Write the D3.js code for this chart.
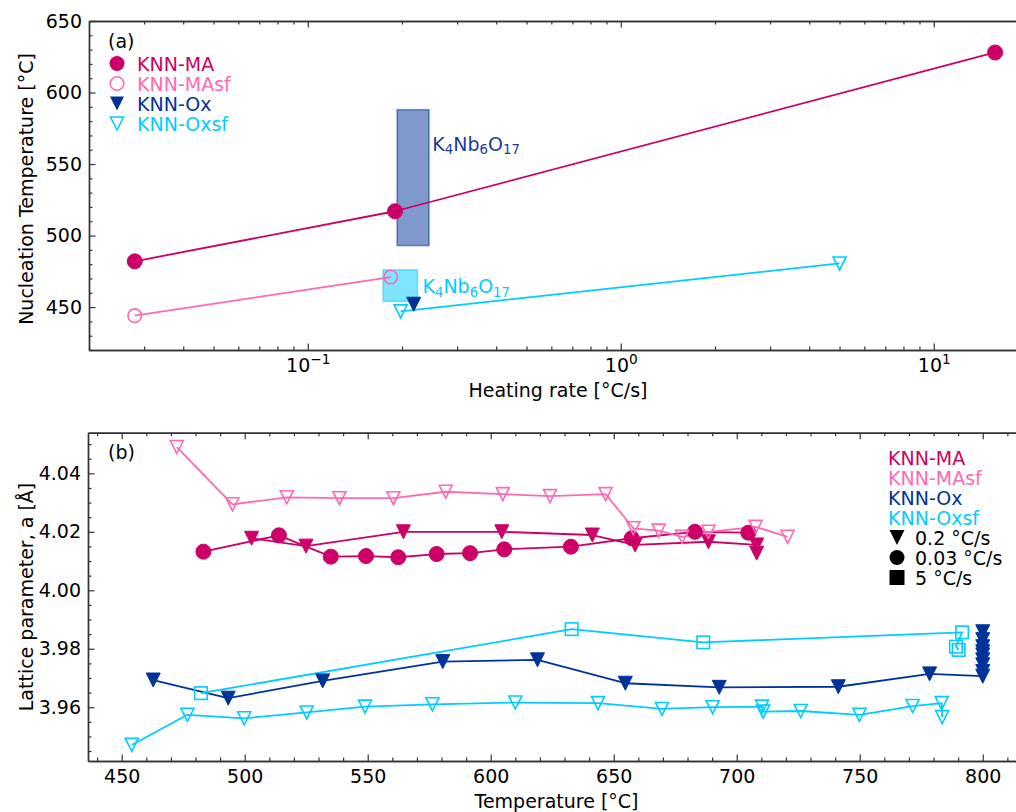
<!DOCTYPE html>
<html><head><meta charset="utf-8">
<script src="https://cdn.jsdelivr.net/npm/d3@7"></script>
<style>
body{margin:0;background:#fff}
text{font-family:"DejaVu Sans",sans-serif}
</style>
</head><body>
<svg id="c" width="1016" height="812"></svg>
<script>
// ---------------- DATA ----------------
const seriesNames = ["KNN-MA", "KNN-MAsf", "KNN-Ox", "KNN-Oxsf"];
const seriesColors = ["#cc0066", "#ff69b4", "#003399", "#00ccff"];
const rateLegend = ["0.2 °C/s", "0.03 °C/s", "5 °C/s"];

// Panel (a): nucleation temperature vs heating rate
const rateMA = [0.028, 0.19, 15.7];
const nucMA = [482, 517, 628];
const rateMAsf = [0.028, 0.184];
const nucMAsf = [444, 471];
const rateOx = [0.218];
const nucOx = [452];
const rateOxsf = [0.198, 5.0];
const nucOxsf = [447, 480.5];
// K4Nb6O17 ranges: [rateMin, rateMax, tMin, tMax]
const phaseOx = [0.193, 0.244, 493, 588];
const phaseOxsf = [0.174, 0.224, 454, 476];

const aYTicks = [450, 500, 550, 600, 650];
const aXTicks = [0.1, 1, 10];
const aXTickExp = ["−1", "0", "1"];

// Panel (b): lattice parameter vs temperature
const tMA02 = [502.8, 524.9, 564.5, 604.5, 641.3, 658.7, 688.5, 708.1, 708.1];
const aMA02 = [4.0178, 4.0151, 4.0200, 4.0200, 4.0189, 4.0155, 4.0166, 4.0155, 4.0127];
const tMA003 = [483.2, 513.9, 535.0, 549.3, 562.4, 578.0, 591.6, 605.5, 632.6, 657.3, 683.0, 704.7];
const aMA003 = [4.0132, 4.0188, 4.0115, 4.0117, 4.0113, 4.0124, 4.0127, 4.0140, 4.0149, 4.0178, 4.0200, 4.0197];
const tMAsf02 = [472.4, 495.0, 517.1, 538.5, 560.4, 581.7, 604.9, 624.1, 646.7, 658.0, 668.3, 677.8, 688.5, 707.7, 720.7];
const aMAsf02 = [4.0490, 4.0294, 4.0318, 4.0315, 4.0315, 4.0337, 4.0329, 4.0322, 4.0329, 4.0212, 4.0204, 4.0183, 4.0200, 4.0217, 4.0183];
const tOx02 = [462.8, 493.3, 531.7, 580.5, 619.0, 654.7, 692.9, 741.3, 778.4, 800, 800, 800, 800, 800, 800, 800, 800, 800];
const aOx02 = [3.9693, 3.9631, 3.9690, 3.9756, 3.9762, 3.9682, 3.9668, 3.9670, 3.9714, 3.9706, 3.9722, 3.9745, 3.9762, 3.9779, 3.9790, 3.9807, 3.9831, 3.9858];
const tOxsf02 = [454.1, 476.7, 499.8, 525.2, 548.9, 576.3, 610.0, 643.6, 669.6, 690.2, 710.3, 710.7, 726.0, 749.9, 771.5, 783.3, 783.5];
const aOxsf02 = [3.9471, 3.9574, 3.9562, 3.9582, 3.9602, 3.9610, 3.9616, 3.9614, 3.9594, 3.9600, 3.9602, 3.9585, 3.9587, 3.9574, 3.9604, 3.9614, 3.9566];
const tOxsf5 = [482.2, 632.9, 686.4, 791.6, 789.1, 790.2];
const aOxsf5 = [3.9648, 3.9867, 3.9822, 3.9856, 3.9807, 3.9796];

const bXTicks = [450, 500, 550, 600, 650, 700, 750, 800];
const bYTicks = [3.96, 3.98, 4.00, 4.02, 4.04];

// ---------------- DRAWING ----------------
const svg = d3.select("#c");
svg.append("rect").attr("width", 1016).attr("height", 812).attr("fill", "#fff");

const FS = 19;
const AX = "#333";

const xa = d3.scaleLog().domain([0.02, 20]).range([89, 1028]);
const ya = d3.scaleLinear().domain([420, 650]).range([350, 21]);
const xb = d3.scaleLinear().domain([436.3, 817.3]).range([88, 1025.3]);
const yb = d3.scaleLinear().domain([3.9416, 4.0539]).range([761, 432.7]);

function triPath(s) { const h = s / 2; return `M0,${h}L${-h},${-h}L${h},${-h}Z`; }

function markers(g, xs, ys, xS, yS, shape, color, filled, size) {
  const pts = xs.map((v, i) => [xS(v), yS(ys[i])]);
  const sel = g.append("g").selectAll(null).data(pts).enter();
  let m;
  if (shape === "circle") {
    m = sel.append("circle").attr("cx", d => d[0]).attr("cy", d => d[1]).attr("r", size / 2);
  } else if (shape === "square") {
    m = sel.append("rect").attr("x", d => d[0] - size / 2).attr("y", d => d[1] - size / 2)
      .attr("width", size).attr("height", size);
  } else {
    m = sel.append("path").attr("d", triPath(size)).attr("transform", d => `translate(${d[0]},${d[1]})`);
  }
  m.attr("fill", filled ? color : "none").attr("stroke", color).attr("stroke-width", filled ? 1 : 1.6);
}

function line(g, xs, ys, xS, yS, color) {
  const pts = xs.map((v, i) => [xS(v), yS(ys[i])]);
  g.append("path").attr("d", d3.line()(pts)).attr("fill", "none")
    .attr("stroke", color).attr("stroke-width", 1.8).attr("stroke-linejoin", "round");
}

function styleAxis(sel) {
  sel.selectAll(".domain").attr("stroke", AX).attr("stroke-width", 1.4);
  sel.selectAll(".tick line").attr("stroke", AX).attr("stroke-width", 1.2);
  sel.selectAll(".tick text").attr("font-size", FS).attr("fill", "#000")
    .attr("font-family", "DejaVu Sans, sans-serif");
}

function axes(x, y, xMaj, xMin, yMaj, yMin, xFmt, yFmt) {
  const [xl] = x.range();
  const [yBot, yTop] = y.range();
  const g = svg.append("g");
  const ab = g.append("g").attr("transform", `translate(0,${yBot})`)
    .call(d3.axisBottom(x).tickValues(xMaj).tickSize(-6.5).tickSizeOuter(0).tickPadding(8.5).tickFormat(xFmt));
  styleAxis(ab);
  const abm = g.append("g").attr("transform", `translate(0,${yBot})`)
    .call(d3.axisBottom(x).tickValues(xMin).tickSize(-3.5).tickSizeOuter(0).tickFormat(""));
  styleAxis(abm);
  const at = g.append("g").attr("transform", `translate(0,${yTop})`)
    .call(d3.axisTop(x).tickValues(xMaj).tickSize(-6.5).tickSizeOuter(0).tickFormat(""));
  styleAxis(at);
  const atm = g.append("g").attr("transform", `translate(0,${yTop})`)
    .call(d3.axisTop(x).tickValues(xMin).tickSize(-3.5).tickSizeOuter(0).tickFormat(""));
  styleAxis(atm);
  const al = g.append("g").attr("transform", `translate(${xl},0)`)
    .call(d3.axisLeft(y).tickValues(yMaj).tickSize(-6.5).tickSizeOuter(0).tickPadding(7).tickFormat(yFmt));
  styleAxis(al);
  const alm = g.append("g").attr("transform", `translate(${xl},0)`)
    .call(d3.axisLeft(y).tickValues(yMin).tickSize(-3.5).tickSizeOuter(0).tickFormat(""));
  styleAxis(alm);
  return ab;
}

// ---- Panel (a) ----
const ga = svg.append("g");
function phaseRect(p, color) {
  ga.append("rect").attr("x", xa(p[0])).attr("y", ya(p[3]))
    .attr("width", xa(p[1]) - xa(p[0])).attr("height", ya(p[2]) - ya(p[3]))
    .attr("fill", color).attr("fill-opacity", 0.5)
    .attr("stroke", color).attr("stroke-opacity", 0.5).attr("stroke-width", 1.6);
}
phaseRect(phaseOx, seriesColors[2]);
phaseRect(phaseOxsf, seriesColors[3]);

function phaseLabel(xv, yv, color) {
  const t = ga.append("text").attr("x", xa(xv)).attr("y", ya(yv)).attr("fill", color).attr("font-size", FS);
  const parts = [["K", 0], ["4", 1], ["Nb", 0], ["6", 1], ["O", 0], ["17", 1]];
  let sub = false;
  parts.forEach(([s, isSub]) => {
    const ts = t.append("tspan").text(s);
    if (isSub && !sub) { ts.attr("dy", 3.5).attr("font-size", FS * 0.7); sub = true; }
    else if (isSub) { ts.attr("font-size", FS * 0.7); }
    else if (!isSub && sub) { ts.attr("dy", -3.5); sub = false; }
  });
}
phaseLabel(0.25, 559.3, "#1a3a9a");
phaseLabel(0.2325, 459.6, seriesColors[3]);

line(ga, rateMA, nucMA, xa, ya, seriesColors[0]);
line(ga, rateMAsf, nucMAsf, xa, ya, seriesColors[1]);
line(ga, rateOxsf, nucOxsf, xa, ya, seriesColors[3]);
markers(ga, rateMA, nucMA, xa, ya, "circle", seriesColors[0], true, 15);
markers(ga, rateMAsf, nucMAsf, xa, ya, "circle", seriesColors[1], false, 13.5);
markers(ga, rateOxsf, nucOxsf, xa, ya, "tri", seriesColors[3], false, 13);
markers(ga, rateOx, nucOx, xa, ya, "tri", seriesColors[2], true, 14);

const aMinor = [];
[0.01, 0.1, 1, 10].forEach(dec => { for (let k = 2; k <= 9; k++) { const v = dec * k; if (v >= 0.02 && v <= 20) aMinor.push(v); } });
const aYMinor = d3.range(420, 651, 10).filter(v => v % 50 !== 0);
const abAxis = axes(xa, ya, aXTicks, aMinor, aYTicks, aYMinor, d => "", d => d);
abAxis.selectAll(".tick text").each(function (d, i) {
  const t = d3.select(this);
  t.text("10");
  t.append("tspan").attr("dy", "-0.55em").attr("font-size", FS * 0.72).text(aXTickExp[i]);
});

svg.append("text").attr("x", 558).attr("y", 397).attr("text-anchor", "middle").attr("font-size", FS).text("Heating rate [°C/s]");
svg.append("text").attr("transform", "translate(33,189) rotate(-90)").attr("text-anchor", "middle").attr("font-size", FS).text("Nucleation Temperature [°C]");
svg.append("text").attr("x", 108).attr("y", 48).attr("font-size", FS).text("(a)");

// legend (a)
const legA = svg.append("g");
seriesNames.forEach((n, i) => {
  const cy = 63.5 + i * 20;
  const cx = 117;
  const col = seriesColors[i];
  if (i === 0) legA.append("circle").attr("cx", cx).attr("cy", cy).attr("r", 7.5).attr("fill", col);
  if (i === 1) legA.append("circle").attr("cx", cx).attr("cy", cy).attr("r", 6.8).attr("fill", "none").attr("stroke", col).attr("stroke-width", 1.6);
  if (i === 2) legA.append("path").attr("d", triPath(14)).attr("transform", `translate(${cx},${cy})`).attr("fill", col);
  if (i === 3) legA.append("path").attr("d", triPath(13)).attr("transform", `translate(${cx},${cy})`).attr("fill", "none").attr("stroke", col).attr("stroke-width", 1.6);
  legA.append("text").attr("x", 137).attr("y", cy + 7).attr("font-size", FS).attr("fill", col).text(n);
});

// ---- Panel (b) ----
const gb = svg.append("g");
line(gb, tMA003, aMA003, xb, yb, seriesColors[0]);
line(gb, tMA02, aMA02, xb, yb, seriesColors[0]);
line(gb, tMAsf02, aMAsf02, xb, yb, seriesColors[1]);
line(gb, tOx02, aOx02, xb, yb, seriesColors[2]);
line(gb, tOxsf02, aOxsf02, xb, yb, seriesColors[3]);
line(gb, tOxsf5, aOxsf5, xb, yb, seriesColors[3]);
markers(gb, tMA003, aMA003, xb, yb, "circle", seriesColors[0], true, 15);
markers(gb, tMA02, aMA02, xb, yb, "tri", seriesColors[0], true, 14);
markers(gb, tMAsf02, aMAsf02, xb, yb, "tri", seriesColors[1], false, 13);
markers(gb, tOx02, aOx02, xb, yb, "tri", seriesColors[2], true, 14);
markers(gb, tOxsf02, aOxsf02, xb, yb, "tri", seriesColors[3], false, 13);
markers(gb, tOxsf5, aOxsf5, xb, yb, "square", seriesColors[3], false, 12.5);

const bXMinor = d3.range(440, 818, 10).filter(v => v % 50 !== 0);
const bYMinor = d3.range(3.945, 4.054, 0.005).filter(v => Math.abs(Math.round(v * 50) - v * 50) > 0.01);
axes(xb, yb, bXTicks, bXMinor, bYTicks, bYMinor, d => d, d3.format(".2f"));

svg.append("text").attr("x", 556.5).attr("y", 808).attr("text-anchor", "middle").attr("font-size", FS).text("Temperature [°C]");
svg.append("text").attr("transform", "translate(33,597) rotate(-90)").attr("text-anchor", "middle").attr("font-size", FS).text("Lattice parameter, a [Å]");
svg.append("text").attr("x", 108).attr("y", 459).attr("font-size", FS).text("(b)");

// legend (b)
const legB = svg.append("g");
seriesNames.forEach((n, i) => {
  legB.append("text").attr("x", 888).attr("y", 465 + i * 20).attr("font-size", FS).attr("fill", seriesColors[i]).text(n);
});
rateLegend.forEach((n, i) => {
  const cy = 537.5 + i * 20;
  const cx = 897;
  if (i === 0) legB.append("path").attr("d", triPath(15)).attr("transform", `translate(${cx},${cy})`).attr("fill", "#000");
  if (i === 1) legB.append("circle").attr("cx", cx).attr("cy", cy).attr("r", 7.5).attr("fill", "#000");
  if (i === 2) legB.append("rect").attr("x", cx - 7.5).attr("y", cy - 7.5).attr("width", 15).attr("height", 15).attr("fill", "#000");
  legB.append("text").attr("x", 915).attr("y", cy + 7.5).attr("font-size", FS).attr("fill", "#000").text(n);
});
</script>
</body></html>
